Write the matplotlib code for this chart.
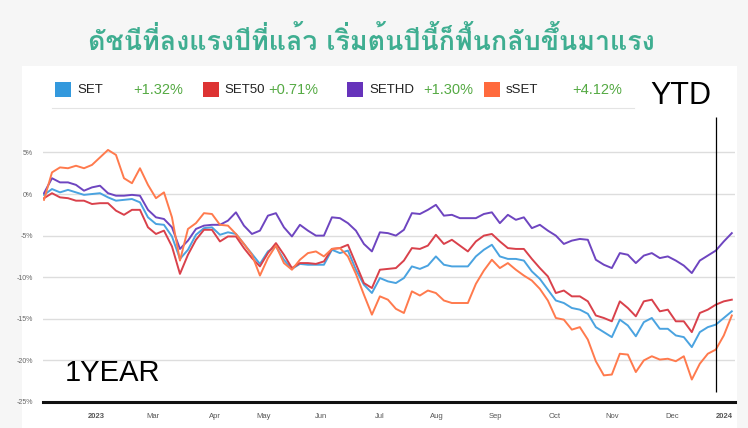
import matplotlib
matplotlib.use("Agg")
import matplotlib.pyplot as plt
from matplotlib import font_manager
from matplotlib.ft2font import FT2Font
from matplotlib.patches import Rectangle
from matplotlib.lines import Line2D

# Data (% change, one point roughly every 3 trading days)
set_index = [-0.1, 0.6, 0.2, 0.5, 0.2, -0.1, 0.0, 0.1, -0.4, -0.8,
             -0.7, -0.6, -1.0, -2.8, -3.6, -3.7, -5.1, -7.8, -6.7, -4.9,
             -4.1, -4.0, -4.9, -4.6, -4.8, -6.0, -7.2, -8.4, -6.9, -6.3,
             -7.9, -9.0, -8.4, -8.5, -8.5, -8.5, -6.7, -7.1, -6.8, -9.1,
             -10.9, -11.9, -10.1, -10.5, -10.7, -10.1, -8.7, -9.0, -8.6, -7.5,
             -8.5, -8.7, -8.7, -8.7, -7.5, -6.7, -6.1, -7.5, -7.8, -7.8,
             -8.0, -9.3, -10.2, -11.5, -12.8, -13.1, -13.7, -13.9, -14.4, -16.0,
             -16.6, -17.2, -15.1, -15.8, -17.1, -15.4, -14.9, -16.2, -16.2, -17.0,
             -17.2, -18.4, -16.6, -16.0, -15.7, -14.9, -14.1]
set50 = [-0.5, 0.1, -0.4, -0.5, -0.8, -0.8, -1.2, -1.1, -1.1, -2.0,
         -2.5, -1.9, -1.9, -4.0, -4.8, -4.4, -6.3, -9.6, -7.3, -5.5,
         -4.3, -4.3, -5.7, -5.1, -5.1, -6.5, -7.7, -8.7, -7.1, -5.9,
         -7.3, -8.9, -8.3, -8.3, -8.4, -8.1, -6.6, -6.5, -6.1, -8.4,
         -10.7, -11.3, -9.1, -9.0, -8.9, -8.0, -6.5, -6.6, -6.2, -4.9,
         -6.0, -5.5, -6.2, -6.9, -5.7, -5.0, -4.8, -5.7, -6.5, -6.6,
         -6.6, -7.8, -8.9, -9.9, -11.9, -11.6, -12.3, -12.3, -12.9, -14.6,
         -14.9, -15.3, -12.9, -13.7, -14.7, -12.9, -12.7, -14.1, -13.9, -15.3,
         -15.3, -16.6, -14.3, -13.9, -13.3, -12.9, -12.7]
sethd = [0.1, 1.9, 1.4, 1.4, 1.1, 0.4, 0.8, 1.0, 0.1, -0.2,
         -0.2, -0.1, -0.2, -1.9, -2.8, -3.0, -4.0, -6.6, -5.6, -4.2,
         -3.8, -3.7, -3.7, -3.2, -2.2, -3.8, -4.8, -4.4, -2.6, -2.3,
         -4.0, -5.1, -3.7, -4.4, -5.0, -5.0, -2.8, -2.9, -3.5, -4.4,
         -6.0, -6.9, -4.6, -4.7, -5.0, -4.3, -2.3, -2.4, -1.9, -1.3,
         -2.6, -2.5, -2.9, -2.9, -2.9, -2.4, -2.2, -3.5, -2.5, -3.1,
         -2.8, -4.1, -3.7, -4.4, -5.0, -6.0, -5.6, -5.4, -5.5, -7.9,
         -8.5, -8.9, -7.1, -7.3, -8.3, -7.4, -7.1, -7.7, -7.5, -8.0,
         -8.6, -9.5, -8.0, -7.4, -6.8, -5.7, -4.7]
sset = [-0.7, 2.6, 3.2, 3.1, 3.4, 3.1, 3.5, 4.4, 5.3, 4.7,
        1.9, 1.3, 3.1, 1.1, -0.5, 0.2, -2.8, -8.0, -4.2, -3.5,
        -2.3, -2.4, -3.7, -3.8, -4.8, -6.0, -7.3, -9.8, -7.7, -6.2,
        -8.3, -9.1, -7.9, -7.1, -6.9, -7.5, -6.6, -6.5, -7.5, -9.6,
        -12.1, -14.5, -12.3, -12.7, -13.8, -14.3, -11.7, -12.2, -11.6, -11.9,
        -12.8, -13.1, -13.1, -13.1, -10.8, -9.2, -7.9, -8.9, -8.3, -9.1,
        -9.8, -10.4, -11.4, -12.8, -14.9, -15.1, -16.3, -16.0, -17.5, -20.1,
        -21.8, -21.7, -19.2, -19.3, -21.4, -20.0, -19.5, -19.9, -19.8, -20.1,
        -19.5, -22.3, -20.4, -19.2, -18.7, -17.0, -14.6]

names = ["SET", "SET50", "SETHD", "sSET"]
ytd = ["+1.32%", "+0.71%", "+1.30%", "+4.12%"]
box_colors = ["#3399dd", "#dd3333", "#6633bb", "#ff6a3d"]
line_colors = ["#4aa3e0", "#d9414b", "#6e45c0", "#ff7a4d"]

month_labels = ["2023", "Mar", "Apr", "May", "Jun", "Jul", "Aug",
                "Sep", "Oct", "Nov", "Dec", "2024"]
month_pos = [6.5, 13.6, 21.4, 27.4, 34.6, 42, 49.1, 56.5, 63.9, 71, 78.6, 85]
ytd_start = 84
y_ticks = [5, 0, -5, -10, -15, -20, -25]

title = "ดัชนีที่ลงแรงปีที่แล้ว เริ่มต้นปีนี้ก็ฟื้นกลับขึ้นมาแรง"


def thai_font():
    # pick any installed font that actually has Thai glyphs
    for f in font_manager.fontManager.ttflist:
        try:
            if 0x0E14 in FT2Font(f.fname).get_charmap():
                return f.name
        except Exception:
            pass
    return "DejaVu Sans"


W, H = 748, 428


def fx(x):
    return x / W


def fy(y):
    return 1 - y / H


plt.rcParams["font.family"] = ["Liberation Sans", "DejaVu Sans"]

fig = plt.figure(figsize=(W / 100, H / 100), dpi=100, facecolor="#f6f6f6")
fig.add_artist(Rectangle((fx(22), 0), fx(737) - fx(22), fy(66), transform=fig.transFigure,
                         facecolor="white", edgecolor="none", zorder=0))

ax = fig.add_axes([fx(43), fy(402), fx(735) - fx(43), fy(115) - fy(402)])
ax.set_facecolor("none")

x = list(range(len(set_index)))
series = [set_index, set50, sethd, sset]
for vals, c in zip(series, line_colors):
    ax.plot(x, vals, color=c, lw=1.4, zorder=3)

ax.vlines(ytd_start, -23.8, 9.3, color="black", lw=0.9, zorder=4)

ax.set_xlim(-0.125, 86.4)
ax.set_ylim(-25, 9.5)
ax.set_yticks(y_ticks)
ax.set_yticklabels([f"{t}%" for t in y_ticks], fontsize=5, color="#666666")
ax.set_xticks(month_pos)
ax.set_xticklabels(month_labels, fontsize=5.5, color="#555555")
for lab in ax.get_xticklabels():
    if lab.get_text() in ("2023", "2024"):
        lab.set_fontweight("bold")
ax.tick_params(length=0, pad=7)
ax.tick_params(axis="x", pad=8)
ax.grid(axis="y", color="#dddddd", lw=1)
for s in ["top", "right", "left"]:
    ax.spines[s].set_visible(False)
ax.spines["bottom"].set_linewidth(2.2)
ax.spines["bottom"].set_color("#111111")

# title
fig.text(fx(371), fy(41), title, ha="center", va="center", fontsize=19.3,
         fontweight="bold", color="#3fae91", family=[thai_font(), "DejaVu Sans"])

# legend row with YTD returns
box_x = [55, 203, 347, 484]
name_x = [77, 224, 369, 506]
pct_x = [133, 268, 423, 572]
for i in range(4):
    fig.add_artist(Rectangle((fx(box_x[i]), fy(97)), fx(16), 15 / H, transform=fig.transFigure,
                             facecolor=box_colors[i], edgecolor="none"))
    fig.text(fx(name_x[i]), fy(90), names[i], ha="left", va="center", fontsize=9.5, color="#222222")
    fig.text(fx(pct_x[i]), fy(90), ytd[i], ha="left", va="center", fontsize=10.5, color="#55aa44")
fig.add_artist(Line2D([fx(52), fx(634)], [fy(108), fy(108)], transform=fig.transFigure,
                      color="#e4e4e4", lw=0.8))

fig.text(fx(650), fy(96), "YTD", ha="left", va="center", fontsize=22, color="black")
fig.text(fx(65), fy(373), "1YEAR", ha="left", va="center", fontsize=21, color="black")

fig.savefig("out.png", dpi=100, facecolor=fig.get_facecolor())
